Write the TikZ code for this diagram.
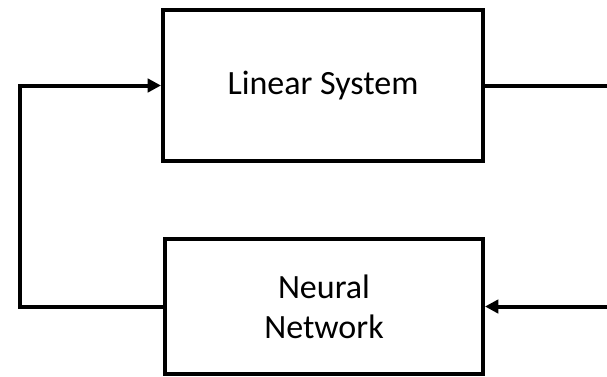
\documentclass[tikz,border=0pt]{standalone}
\usepackage{fontspec}
\setmainfont{Carlito}
\usetikzlibrary{arrows.meta}

\tikzset{
	block/.style={draw, line width=3pt, align=center, font=\fontsize{25.5}{30}\selectfont},
}

\begin{document}
\begin{tikzpicture}[x=0.75pt,y=-0.75pt,line width=3pt,>={Triangle[length=10pt,width=10pt]}]
	% keep the page the size of the reference
	\useasboundingbox (0,0) rectangle (607,376);

	% the two blocks
	\node[block, minimum width=240pt, minimum height=113pt] (lin) at (323,85.5) {Linear System};
	\node[block, minimum width=238.5pt, minimum height=101pt] (nn) at (324,306.5) {Neural\\ Network};

	% free ends at the right border
	\coordinate (out) at (607,85.5);
	\coordinate (in) at (607,306.5);

	% connectors
	\draw (lin.east) -- (out);
	\draw[->] (in) -- (nn.east);
	\draw[->] (nn.west) -| (20,150) |- (lin.west);
\end{tikzpicture}
\end{document}
